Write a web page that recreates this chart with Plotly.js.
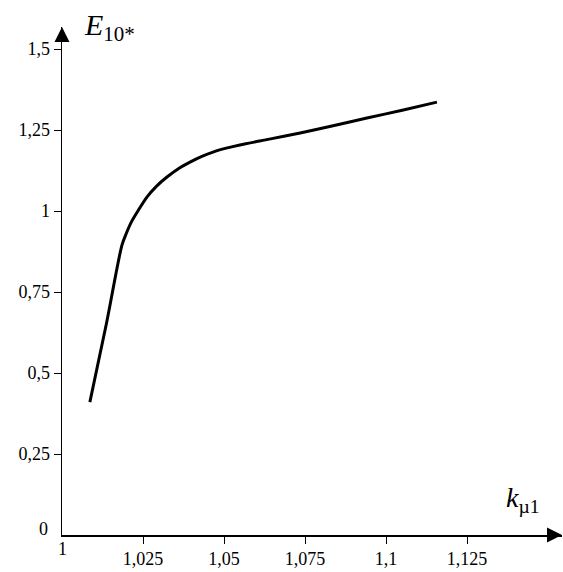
<!DOCTYPE html>
<html>
<head>
<meta charset="utf-8">
<script src="https://cdn.plot.ly/plotly-3.0.1.min.js"></script>
<style>html,body{margin:0;padding:0;background:#fff;}#chart{width:563px;height:572px;}</style>
</head>
<body>
<div id="chart"></div>
<script>
// Curve E10* vs k_mu1
const kMu1 = [1.0086, 1.0137, 1.0185, 1.0198, 1.0215, 1.0236, 1.0262, 1.0292, 1.0324, 1.0358, 1.0395, 1.0430, 1.0466, 1.0507, 1.0549, 1.0640, 1.0735, 1.0840, 1.0941, 1.1050, 1.1157];
const E10 = [0.410, 0.652, 0.895, 0.930, 0.968, 1.003, 1.043, 1.077, 1.105, 1.130, 1.151, 1.168, 1.182, 1.194, 1.204, 1.222, 1.241, 1.264, 1.287, 1.311, 1.336];

const xTickVals = [1.025, 1.05, 1.075, 1.1, 1.125];
const xTickText = ["1,025", "1,05", "1,075", "1,1", "1,125"];
const yTickVals = [0.25, 0.5, 0.75, 1, 1.25, 1.5];
const yTickText = ["0,25", "0,5", "0,75", "1", "1,25", "1,5"];

const serif = '"Liberation Serif", "Times New Roman", Tinos, "DejaVu Serif", "Noto Serif", serif';

const trace = {
  x: kMu1, y: E10, type: "scatter", mode: "lines",
  line: {color: "#000", width: 3, shape: "spline", smoothing: 0.8},
  hoverinfo: "skip"
};

const layout = {
  width: 563, height: 572,
  margin: {l: 62, r: 1, t: 27, b: 37},
  paper_bgcolor: "#fff", plot_bgcolor: "#fff",
  showlegend: false,
  font: {family: serif, color: "#000"},
  xaxis: {
    range: [1, 1.1543], showgrid: false, zeroline: false,
    showline: true, linecolor: "#000", linewidth: 1.5,
    ticks: "outside", ticklen: 7, tickwidth: 1, tickcolor: "#000",
    tickvals: xTickVals, ticktext: xTickText,
    tickfont: {family: serif, size: 18, color: "#000"}
  },
  yaxis: {
    range: [0, 1.568], showgrid: false, zeroline: false,
    showline: true, linecolor: "#000", linewidth: 1.5,
    ticks: "outside", ticklen: 7, tickwidth: 1, tickcolor: "#000",
    tickvals: yTickVals, ticktext: yTickText,
    tickfont: {family: serif, size: 18, color: "#000"}
  },
  annotations: [
    {xref: "paper", yref: "paper", x: 0, y: 1, ax: 0, ay: 16,
     showarrow: true, arrowhead: 2, arrowsize: 2, arrowwidth: 1.5, arrowcolor: "#000", text: ""},
    {xref: "paper", yref: "paper", x: 1, y: 0, ax: -16, ay: 0,
     showarrow: true, arrowhead: 2, arrowsize: 2, arrowwidth: 1.5, arrowcolor: "#000", text: ""},
    {xref: "paper", yref: "paper", x: 0, y: 0, xshift: -12, yshift: 6, xanchor: "right", yanchor: "middle",
     showarrow: false, text: "0", font: {family: serif, size: 18, color: "#000"}},
    {xref: "paper", yref: "paper", x: 0, y: 0, yshift: -2, xanchor: "center", yanchor: "top",
     showarrow: false, text: "1", font: {family: serif, size: 18, color: "#000"}},
    {xref: "paper", yref: "paper", x: 0, y: 1, xshift: 20, yshift: 0, xanchor: "left", yanchor: "middle",
     showarrow: false, text: "<i>E</i><sub>10*</sub>", font: {family: serif, size: 30, color: "#000"}},
    {xref: "paper", yref: "paper", x: 1, y: 0, xshift: -20, yshift: 36, xanchor: "right", yanchor: "middle",
     showarrow: false, text: "<i>k</i><sub>µ1</sub>", font: {family: serif, size: 28, color: "#000"}}
  ]
};

Plotly.newPlot("chart", [trace], layout, {staticPlot: true, displayModeBar: false});
</script>
</body>
</html>
